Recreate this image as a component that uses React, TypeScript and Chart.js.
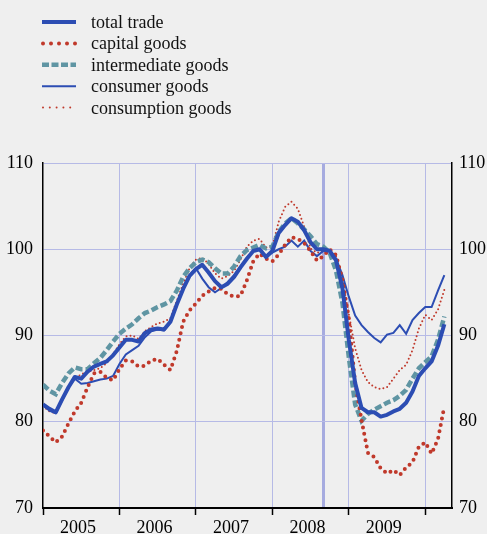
import React, { useEffect, useRef } from "react";
import { Chart, registerables } from "chart.js";

Chart.register(...registerables);

// Months: index 0 = Jan 2005 ... 63 = Apr 2010
const yearLabels = ["2005", "2006", "2007", "2008", "2009"];
const yearStartTicks = [0, 12, 24, 36, 48, 60];
const yearLabelTicks = [5.5, 17.5, 29.5, 41.5, 53.5];
const lehmanTick = 44;
const yTicks = [70, 80, 90, 100, 110];

const totalTrade = [
  82.0, 81.5, 81.1, 82.6, 84.0, 85.2, 85.0, 85.8, 86.4, 86.7, 87.0, 87.7,
  88.6, 89.5, 89.5, 89.3, 90.3, 90.7, 90.8, 90.7, 91.6, 93.6, 95.4, 96.9,
  97.7, 98.2, 97.3, 96.3, 95.6, 96.0, 96.8, 97.9, 98.9, 99.8, 100.0, 99.1,
  99.8, 101.9, 102.8, 103.6, 103.2, 102.2, 100.8, 100.0, 100.0, 99.8, 98.7, 95.5,
  89.5, 84.5, 81.6, 81.1, 81.1, 80.6, 80.8, 81.2, 81.5, 82.2, 83.5, 85.3,
  86.2, 87.0, 88.8, 91.3,
];
const capitalGoods = [
  79.0, 78.3, 77.6, 78.3, 79.8, 81.2, 82.2, 84.0, 85.6, 85.8, 85.1, 84.8,
  86.1, 87.1, 87.0, 86.4, 86.5, 87.1, 87.3, 86.6, 86.0, 88.2, 91.6, 92.9,
  93.7, 94.6, 95.1, 95.5, 95.4, 94.8, 94.5, 94.6, 96.4, 98.6, 99.5, 98.9,
  98.6, 99.4, 100.5, 101.4, 101.2, 100.7, 99.8, 98.7, 99.2, 100.0, 99.3, 96.5,
  92.0, 84.5, 80.2, 76.4, 75.9, 74.6, 74.0, 74.4, 73.8, 74.7, 75.3, 77.1,
  77.6, 76.3, 78.0, 81.8,
];
const intermediateGoods = [
  84.3, 83.6, 83.2, 84.5, 85.6, 86.3, 86.1, 86.1, 86.8, 87.4, 88.3, 89.3,
  90.2, 90.8, 91.3, 92.0, 92.6, 92.9, 93.3, 93.6, 94.0, 95.2, 96.8, 97.8,
  98.5, 98.8, 98.5, 97.8, 97.2, 97.2, 98.0, 99.2, 99.9, 100.2, 100.5, 100.1,
  100.3, 102.0, 103.0, 103.6, 103.0, 102.3, 101.5, 100.6, 100.3, 99.6, 97.5, 93.8,
  87.5, 82.0, 80.1, 80.9, 81.4, 81.8, 82.2, 82.5, 83.0, 83.7, 85.0, 86.2,
  86.9, 87.6, 89.5, 92.2,
];
const consumerGoods = [
  82.0, 81.3, 81.0, 82.5, 84.0, 85.0, 84.4, 84.5, 84.7, 84.9, 85.0, 85.3,
  86.7, 87.8, 88.3, 88.8, 89.8, 90.5, 90.7, 90.6, 91.5, 93.5, 95.5, 97.0,
  97.8, 96.6, 95.6, 95.0, 95.5, 96.2, 97.0, 98.0, 99.0, 99.8, 100.0, 99.2,
  99.6, 100.0, 100.3, 101.0, 100.3, 101.0, 99.8, 99.2, 99.8, 99.8, 98.9, 97.0,
  94.5, 92.3, 91.2, 90.4, 89.7, 89.2, 90.1, 90.3, 91.2, 90.2, 91.8, 92.6,
  93.3, 93.3, 95.2, 97.0,
];
const consumptionGoods = [
  81.8, 81.2, 81.0, 82.5, 84.0, 85.0, 85.5, 85.8, 86.0, 86.2, 86.8, 87.8,
  89.0, 89.9, 90.0, 89.6, 90.5, 91.0, 91.4, 91.6, 92.0, 94.0, 96.0, 97.8,
  98.8, 99.0, 98.3, 97.2, 96.6, 96.9, 97.5, 98.8, 100.3, 101.0, 101.2, 100.2,
  100.3, 103.2, 104.9, 105.5, 104.7, 102.6, 100.1, 99.6, 99.8, 99.8, 99.2, 96.5,
  92.5, 88.5, 86.0, 84.6, 84.0, 83.8, 84.0, 85.0, 86.0, 86.6, 88.3, 90.8,
  92.4, 91.8, 93.0, 95.3,
];

const BLUE = "#2C4DB3";
const RED = "#C0392B";
const TEAL = "#5F95A3";
const GRID = "#B6BAE6";
const LEHMAN = "#A6ABDF";
const BG = "#EFEFEF";
const FONT = '"Liberation Serif", "Times New Roman", serif';

const toXY = (arr: number[]) => arr.map((v, i) => ({ x: i, y: v }));

const legendDash: Record<string, number[]> = {
  "total trade": [],
  "capital goods": [0, 8],
  "intermediate goods": [7, 2.5],
  "consumer goods": [],
  "consumption goods": [0, 6.8],
};

const bgPlugin = {
  id: "bgFill",
  beforeDraw(chart: any) {
    const c = chart.ctx;
    c.save();
    c.fillStyle = BG;
    c.fillRect(0, 0, chart.width, chart.height);
    c.restore();
  },
};

const legendPlugin = {
  id: "stackLegend",
  afterDraw(chart: any) {
    const c = chart.ctx;
    chart.data.datasets.forEach((ds: any, k: number) => {
      const y = 22 + k * 21.4;
      const dash = legendDash[ds.label] || [];
      c.save();
      c.strokeStyle = ds.borderColor;
      c.lineWidth = ds.borderWidth;
      c.setLineDash(dash);
      c.lineCap = ds.borderCapStyle || "butt";
      c.beginPath();
      c.moveTo(dash.length && dash[0] === 0 ? 43 : 42, y);
      c.lineTo(76, y);
      c.stroke();
      c.setLineDash([]);
      c.fillStyle = "#111";
      c.font = `18px ${FONT}`;
      c.textBaseline = "alphabetic";
      c.textAlign = "left";
      c.fillText(ds.label, 91, y + 6);
      c.restore();
    });
  },
};

export default function App() {
  const ref = useRef<HTMLCanvasElement>(null);
  useEffect(() => {
    document.body.style.margin = "0";
    document.body.style.background = BG;
    const canvas = ref.current!;
    const font = { family: FONT, size: 18 };
    const chart = new Chart(canvas, {
      type: "line",
      data: {
        datasets: [
          {
            label: "total trade",
            data: toXY(totalTrade),
            borderColor: BLUE,
            borderWidth: 4,
            borderJoinStyle: "round",
            pointRadius: 0,
            tension: 0,
          },
          {
            label: "capital goods",
            data: toXY(capitalGoods),
            borderColor: RED,
            borderWidth: 4,
            borderDash: [0, 6.5],
            borderCapStyle: "round",
            pointRadius: 0,
            tension: 0,
          },
          {
            label: "intermediate goods",
            data: toXY(intermediateGoods),
            borderColor: TEAL,
            borderWidth: 4.5,
            borderDash: [7, 3],
            pointRadius: 0,
            tension: 0,
          },
          {
            label: "consumer goods",
            data: toXY(consumerGoods),
            borderColor: BLUE,
            borderWidth: 2,
            pointRadius: 0,
            tension: 0,
          },
          {
            label: "consumption goods",
            data: toXY(consumptionGoods),
            borderColor: RED,
            borderWidth: 2,
            borderDash: [0, 4],
            borderCapStyle: "round",
            pointRadius: 0,
            tension: 0,
          },
        ] as any,
      },
      options: {
        animation: false,
        responsive: false,
        maintainAspectRatio: false,
        layout: { padding: { top: 163, left: 0, right: 0, bottom: 0 } },
        plugins: { legend: { display: false }, tooltip: { enabled: false } },
        scales: {
          x: {
            type: "linear",
            position: "bottom",
            min: 0,
            max: 64.2,
            afterBuildTicks: (axis: any) => {
              axis.ticks = [...yearStartTicks, ...yearLabelTicks, lehmanTick].map((v) => ({ value: v }));
            },
            afterFit: (axis: any) => {
              axis.height = 26;
            },
            grid: {
              color: (ctx: any) => {
                const v = ctx.tick ? ctx.tick.value : -1;
                if (v === lehmanTick) return LEHMAN;
                if (v === 0) return "rgba(0,0,0,0)";
                return yearStartTicks.includes(v) ? GRID : "rgba(0,0,0,0)";
              },
              lineWidth: (ctx: any) => (ctx.tick && ctx.tick.value === lehmanTick ? 3 : 1),
              tickColor: (ctx: any) =>
                ctx.tick && yearStartTicks.includes(ctx.tick.value) ? "#000" : "rgba(0,0,0,0)",
              tickLength: 7,
              tickWidth: 1.5,
            },
            border: { color: "#000", width: 2 },
            ticks: {
              autoSkip: false,
              maxRotation: 0,
              minRotation: 0,
              padding: 2,
              color: "#000",
              font,
              callback: (v: any) => {
                const idx = yearLabelTicks.indexOf(Number(v));
                return idx >= 0 ? yearLabels[idx] : "";
              },
            },
          },
          y: {
            type: "linear",
            position: "left",
            min: 70,
            max: 110,
            afterBuildTicks: (axis: any) => {
              axis.ticks = yTicks.map((v) => ({ value: v }));
            },
            afterFit: (axis: any) => {
              axis.width = 43;
            },
            grid: {
              color: (ctx: any) => (ctx.tick && ctx.tick.value === 70 ? "rgba(0,0,0,0)" : GRID),
              lineWidth: 1,
              drawTicks: false,
            },
            border: { color: "#000", width: 1.5 },
            ticks: { padding: 10, color: "#000", font },
          },
          y2: {
            type: "linear",
            position: "right",
            min: 70,
            max: 110,
            afterBuildTicks: (axis: any) => {
              axis.ticks = yTicks.map((v) => ({ value: v }));
            },
            afterFit: (axis: any) => {
              axis.width = 35;
            },
            grid: { drawOnChartArea: false, drawTicks: false },
            border: { color: "#000", width: 1.5 },
            ticks: { padding: 7, color: "#000", font },
          },
        },
      } as any,
      plugins: [bgPlugin, legendPlugin],
    });
    return () => chart.destroy();
  }, []);
  return (
    <div style={{ width: 487, height: 534, position: "relative" }}>
      <canvas
        ref={ref}
        width={487}
        height={534}
        style={{ display: "block", width: 487, height: 534 }}
      />
    </div>
  );
}
